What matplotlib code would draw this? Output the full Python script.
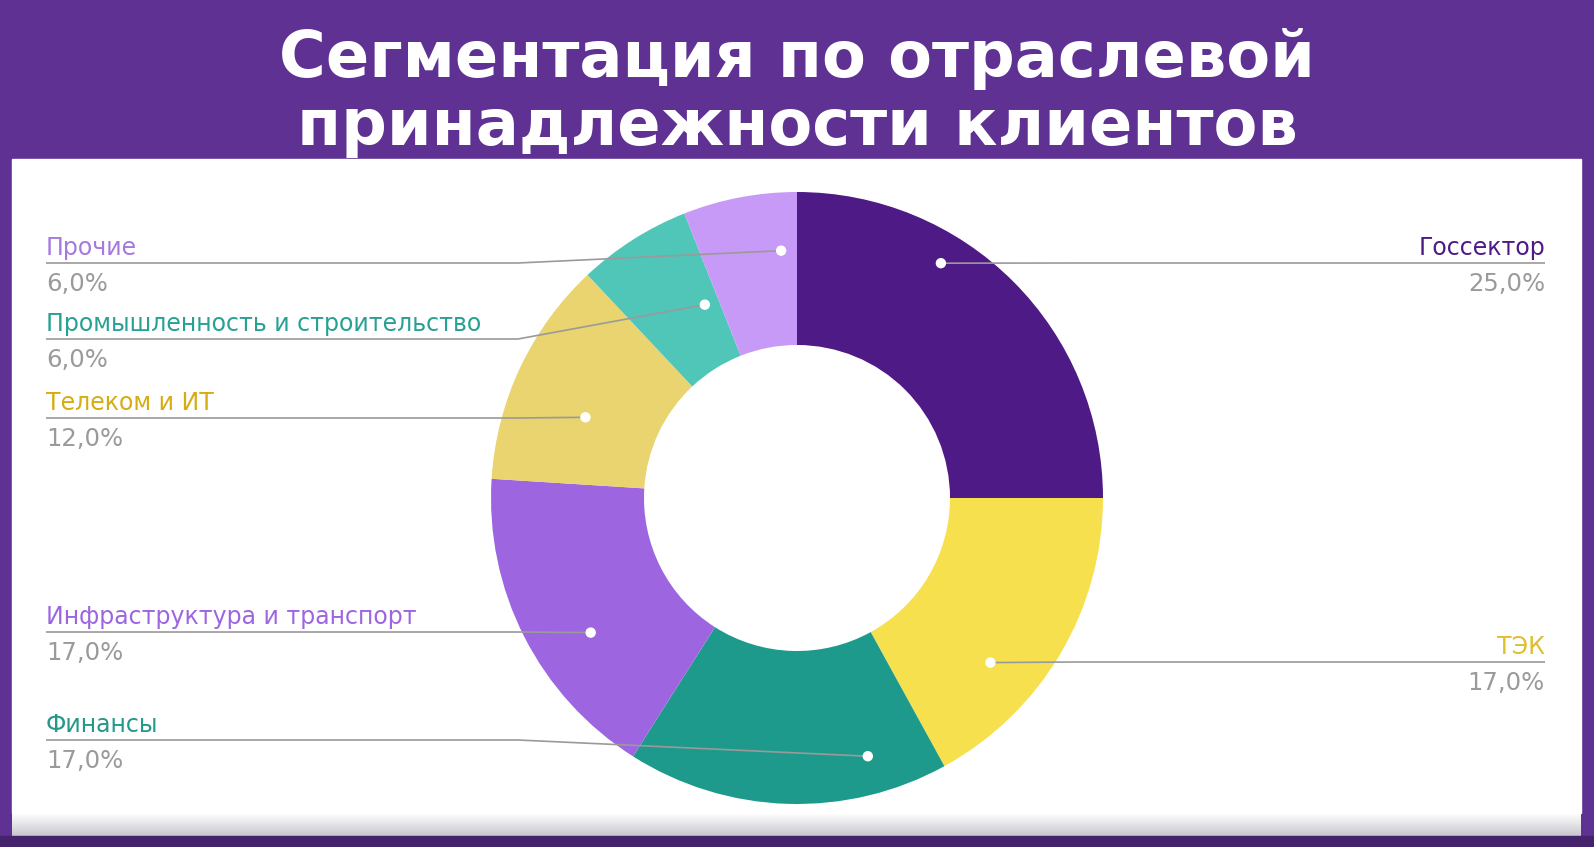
import numpy as np
import matplotlib.pyplot as plt
from matplotlib.patches import Rectangle, Circle
from matplotlib.colors import LinearSegmentedColormap

# data
categories = ["Госсектор", "ТЭК", "Финансы", "Инфраструктура и транспорт",
              "Телеком и ИТ", "Промышленность и строительство", "Прочие"]
shares = [25.0, 17.0, 17.0, 17.0, 12.0, 6.0, 6.0]
title_lines = ["Сегментация по отраслевой", "принадлежности клиентов"]

slice_colors = ["#4E1A85", "#F7E04E", "#1E9A8C", "#9D66E0", "#E9D46F", "#4FC6B8", "#C89AF7"]
name_colors = ["#4E1A85", "#E0BE2C", "#23998A", "#9D66E0", "#D6AC12", "#27A193", "#A678E0"]

# label layout: side, row y (px from top), position of dot in wedge (along, radial)
label_side = ["right", "right", "left", "left", "left", "left", "left"]
label_row = [263, 662, 740, 632, 418, 339, 263]
dot_along = [0.35, 0.66, 0.22, 0.40, 0.40, 0.82, 0.83]
dot_radial = [0.90, 0.83, 0.875, 0.805, 0.74, 0.70, 0.81]

W, H = 1594, 847
BG = "#5E3192"
cx, cy, R = 797, H - 498, 306

fig = plt.figure(figsize=(W / 100, H / 100), dpi=100, facecolor=BG)
ax = fig.add_axes([0, 0, 1, 1])
ax.set_facecolor(BG)

# white panel + bottom shading
ax.add_patch(Rectangle((12, H - 813), 1569, 813 - 159, color="white", zorder=0))
shade = LinearSegmentedColormap.from_list("shade", ["#FFFFFF", "#C9C6CE"])
ax.imshow(np.linspace(0, 1, 60).reshape(-1, 1), cmap=shade, aspect="auto",
          extent=[12, 1581, H - 836, H - 813], zorder=0)
ax.add_patch(Rectangle((0, 0), W, H - 836, color="#45226C", zorder=0))

wedges, _ = ax.pie(shares, colors=slice_colors, startangle=90, counterclock=False,
                   radius=R, center=(cx, cy),
                   wedgeprops=dict(width=R * 0.5, edgecolor="none", linewidth=0))

for i, w in enumerate(wedges):
    ang = np.deg2rad(w.theta2 - dot_along[i] * (w.theta2 - w.theta1))
    dx = cx + dot_radial[i] * R * np.cos(ang)
    dy = cy + dot_radial[i] * R * np.sin(ang)
    y = H - label_row[i]
    value = f"{shares[i]:.1f}%".replace(".", ",")
    if label_side[i] == "left":
        xs, xe, ha, tx = 46, 518, "left", 46
    else:
        xs, xe, ha, tx = 1545, 1076, "right", 1545
    ax.plot([xs, xe, dx], [y, y, dy], color="#9A9A9A", lw=1.2, zorder=3,
            solid_capstyle="butt")
    ax.add_patch(Circle((dx, dy), 4.5, color="white", zorder=4))
    ax.text(tx, y + 15, categories[i], ha=ha, va="center", fontsize=17,
            color=name_colors[i], family="DejaVu Sans")
    ax.text(tx, y - 21, value, ha=ha, va="center", fontsize=17.5,
            color="#9A9A9A", family="DejaVu Sans")

ax.text(W / 2, H - 59, title_lines[0], ha="center", va="center", fontsize=46,
        fontweight="bold", color="white", family="DejaVu Sans")
ax.text(W / 2, H - 127, title_lines[1], ha="center", va="center", fontsize=46,
        fontweight="bold", color="white", family="DejaVu Sans")

ax.set_xlim(0, W)
ax.set_ylim(0, H)
ax.set_aspect("equal")
ax.axis("off")

fig.savefig("out.png", dpi=100, facecolor=BG)
